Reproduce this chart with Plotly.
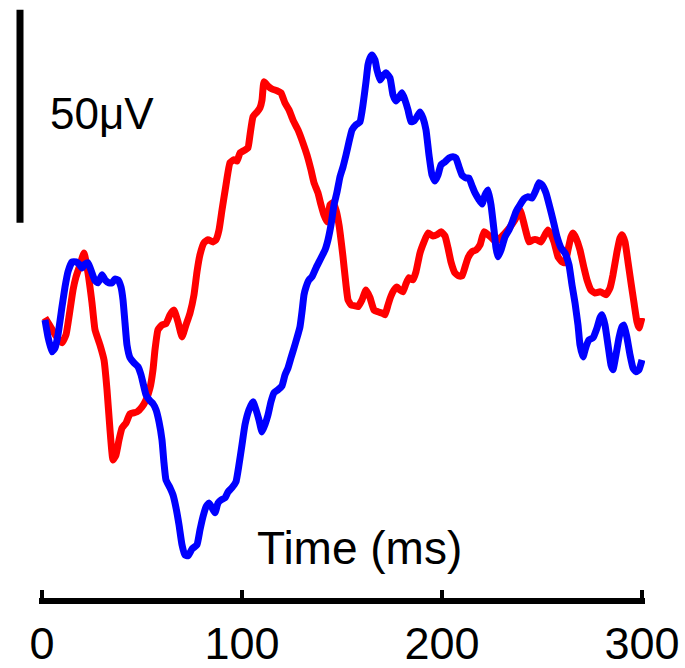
import plotly.graph_objects as go

# Time (ms) and amplitude (µV)
red_t = [1.5, 4, 7, 10, 12, 14, 15.5, 17, 19, 21, 23, 25, 26.5, 29, 31, 32.5, 34, 35.5, 37, 38.5,
         40, 42, 44, 47.5, 50, 52, 54, 55.5, 56.5, 58, 60, 62, 64, 66, 68, 70, 72, 74, 76, 77.5,
         79, 81, 83, 85.5, 87, 88.5, 90, 92, 94, 96, 97.5, 99, 101.5, 103, 104, 105.5, 107.5, 109, 110, 111,
         113, 115, 117.5, 119.5, 121.5, 123.5, 125.5, 128, 130.5, 132.5, 134.5, 136, 138, 139.5, 141, 142.5, 144, 145.5, 147, 148.5,
         150.5, 152, 153, 154.5, 156.5, 158, 160, 162, 164, 166, 168, 170, 171.5, 173, 174.5, 176, 177.5, 179, 180.5, 182,
         183.5, 185.5, 187, 189, 191, 193, 195.5, 197.5, 199.5, 201.5, 203, 204.5, 206.5, 208.5, 210, 211.5, 213, 215, 217, 219,
         221, 223, 225, 227, 229, 231.5, 234, 236.5, 239, 240.5, 242, 243.5, 245.5, 247.5, 249.5, 251.5, 253, 254.5, 256, 258,
         260, 261.5, 263, 264.5, 265.5, 267, 269, 271, 272.5, 274.5, 276.5, 279, 280.5, 282, 284, 285.5, 287.5, 289, 290, 291.5,
         293, 294.5, 296, 297.5, 298.5, 300]
red_v = [0.5, -1.4, -3.8, -5.4, -3.5, 2.3, 7.0, 10.1, 12.9, 15.7, 11.0, 4.0, -2.3, -5.9, -9.4, -16.4, -25.8, -32.9, -31.7, -28.2,
         -25.4, -24.2, -22.1, -21.6, -20.4, -18.8, -16.0, -11.7, -7.0, -2.3, -1.2, -0.9, 1.2, 2.3, -0.5, -4.0, -1.2, 1.6, 5.9, 11.3,
         15.3, 18.1, 18.8, 18.3, 18.8, 21.1, 25.8, 31.7, 36.9, 37.6, 37.3, 39.2, 39.9, 40.4, 43.4, 47.7, 48.8, 49.8, 51.6, 55.9,
         54.9, 54.2, 53.8, 53.3, 50.9, 49.3, 46.9, 44.6, 41.5, 38.7, 35.2, 32.2, 29.8, 27.0, 24.6, 23.0, 27.0, 27.5, 25.8, 22.3,
         14.8, 8.2, 4.7, 3.5, 3.3, 3.1, 4.7, 7.0, 5.2, 2.3, 1.9, 1.6, 1.2, 3.5, 5.6, 7.0, 7.7, 7.0, 6.6, 8.5,
         9.9, 9.4, 11.3, 15.7, 18.3, 20.4, 19.7, 20.0, 20.7, 19.7, 16.9, 13.6, 11.0, 10.3, 10.3, 12.4, 14.6, 16.0, 16.4, 17.6,
         20.7, 20.0, 19.2, 18.3, 19.2, 20.4, 21.8, 23.5, 25.8, 23.5, 20.7, 18.3, 18.8, 18.8, 18.3, 20.0, 21.1, 20.0, 18.3, 14.8,
         13.6, 13.4, 16.4, 19.5, 20.4, 19.2, 16.4, 12.2, 9.4, 7.0, 6.3, 6.6, 6.3, 5.9, 7.5, 10.6, 16.0, 19.2, 20.0, 18.3,
         13.6, 8.7, 4.0, -0.5, -1.9, 0.5]

blue_t = [1.5, 3, 5, 6.5, 8, 10, 11.5, 13, 15, 17, 18.5, 20, 21.5, 23, 25, 26.5, 28, 30, 31.5, 33.5,
          35, 36.5, 38, 39.5, 40.5, 41.5, 42.5, 44, 46, 48, 49.5, 50.5, 52, 54, 55.5, 57, 58.5, 60, 61, 62,
          64, 65.5, 67, 68.5, 70, 71.5, 73, 75, 77.5, 79, 80.5, 82, 83.5, 85, 86.5, 88, 89.5, 91.5, 93, 95,
          97, 98.5, 100, 101.5, 103.5, 105.5, 107, 108.5, 110, 111.5, 113, 114.5, 116, 118, 120, 121.5, 123, 124.5, 126, 127.5,
          129, 130, 131, 132, 133.5, 135, 137, 138.5, 140, 141.5, 143, 144.5, 146, 147.5, 149, 150.5, 152, 153.5, 155, 157,
          159, 160.5, 162, 163, 164, 165, 166.5, 167.5, 169, 170.5, 172, 174, 175.5, 177, 178.5, 180, 181.5, 183, 184.5, 186,
          187.5, 189, 190.5, 192, 193.5, 195, 196.5, 198, 199.5, 201.5, 203.5, 205.5, 207, 208.5, 210, 212, 213.5, 215, 216.5, 218.5,
          220, 221.5, 223, 224.5, 226, 227, 228, 229.5, 231.5, 233.5, 235, 237, 239, 241, 243, 245, 247, 248.5, 250, 252,
          254, 255.5, 257.5, 259.5, 261.5, 263.5, 265, 266.5, 268, 269, 270.5, 272, 273.5, 275.5, 277.5, 279, 280, 281.5, 283, 284.5,
          285.5, 287, 288.5, 290, 291, 292.5, 294, 295.5, 297, 298.5, 300]
blue_v = [0.0, -4.0, -7.5, -6.6, -3.5, 3.1, 7.7, 11.3, 13.6, 13.6, 13.1, 12.2, 13.1, 13.4, 11.0, 9.2, 8.7, 10.6, 9.4, 8.7,
          8.7, 9.6, 9.4, 7.7, 4.7, -0.7, -5.9, -8.9, -10.1, -11.0, -12.9, -14.8, -17.6, -19.0, -19.7, -21.1, -23.9, -28.2, -33.6, -37.6,
          -39.4, -41.1, -44.1, -48.1, -52.8, -55.2, -55.4, -53.8, -52.8, -49.3, -46.2, -43.9, -43.0, -44.1, -45.3, -43.0, -42.3, -41.8, -40.4, -39.4,
          -38.0, -34.0, -29.3, -24.6, -21.1, -19.2, -21.1, -23.5, -26.3, -24.6, -22.3, -19.2, -17.1, -16.4, -15.5, -12.9, -11.3, -8.9, -6.6, -4.2,
          -1.6, 1.9, 5.9, 7.7, 9.4, 10.1, 12.2, 13.6, 15.0, 16.4, 18.8, 22.3, 27.0, 30.0, 33.6, 35.9, 38.7, 41.8, 44.6, 45.8,
          46.5, 50.5, 55.9, 59.9, 61.5, 62.2, 61.0, 58.7, 56.3, 57.3, 58.0, 56.8, 52.8, 51.4, 52.3, 53.3, 51.6, 49.3, 46.5, 46.7,
          47.7, 48.8, 47.4, 44.6, 38.7, 34.0, 32.6, 34.0, 36.4, 37.1, 38.0, 38.3, 38.0, 35.9, 34.0, 33.3, 33.3, 31.5, 29.8, 28.2,
          27.2, 29.3, 30.5, 27.0, 21.1, 16.9, 14.8, 16.4, 19.5, 21.1, 22.8, 25.4, 27.0, 28.4, 28.9, 28.6, 30.5, 32.2, 31.7, 29.8,
          26.3, 23.5, 19.5, 16.9, 15.7, 12.9, 8.2, 4.0, -1.2, -5.9, -8.7, -6.3, -4.7, -4.2, -1.9, 0.5, 1.2, -1.2, -5.9, -10.6,
          -11.7, -8.2, -4.2, -1.6, -1.2, -4.2, -8.2, -11.3, -12.2, -11.7, -9.4]

x_ticks = [0, 100, 200, 300]
scale_bar_uv = 50
scale_bar_top = 72.8

FONT = "Liberation Sans, Arial, sans-serif"
W, H = 685, 668

fig = go.Figure()
for t, v, c in ((red_t, red_v, "#FF0000"), (blue_t, blue_v, "#0000FF")):
    fig.add_trace(go.Scatter(x=t, y=v, mode="lines",
                             line=dict(color=c, width=7, shape="spline", smoothing=0.4),
                             hoverinfo="skip"))

fig.update_layout(
    width=W, height=H,
    margin=dict(l=0, r=0, t=0, b=70, autoexpand=False),
    paper_bgcolor="white", plot_bgcolor="white",
    showlegend=False,
    xaxis=dict(domain=[39 / W, 645 / W], range=[-1.5, 301.5], automargin=False,
               showgrid=False, zeroline=False,
               showline=True, linecolor="black", linewidth=6,
               ticks="inside", ticklen=8, tickwidth=4, tickcolor="black",
               tickvals=x_ticks, ticktext=[str(v) for v in x_ticks],
               tickfont=dict(family=FONT, size=45, color="black"),
               ticklabelstandoff=1),
    yaxis=dict(domain=[0, 1], range=[-65.3, 75.1], visible=False, automargin=False),
)

# vertical 50 µV scale bar
fig.add_shape(type="line", xref="paper", yref="y",
              x0=20 / W, x1=20 / W, y0=scale_bar_top, y1=scale_bar_top - scale_bar_uv,
              line=dict(color="black", width=7))
fig.add_annotation(text="50μV", xref="paper", yref="y", x=48 / W, y=48.4,
                   xanchor="left", yanchor="middle", showarrow=False,
                   font=dict(family=FONT, size=44, color="black"))
fig.add_annotation(text="Time (ms)", xref="x", yref="y", x=158.5, y=-53.5,
                   xanchor="center", yanchor="middle", showarrow=False,
                   font=dict(family=FONT, size=46, color="black"))

fig.write_html("out.html")
